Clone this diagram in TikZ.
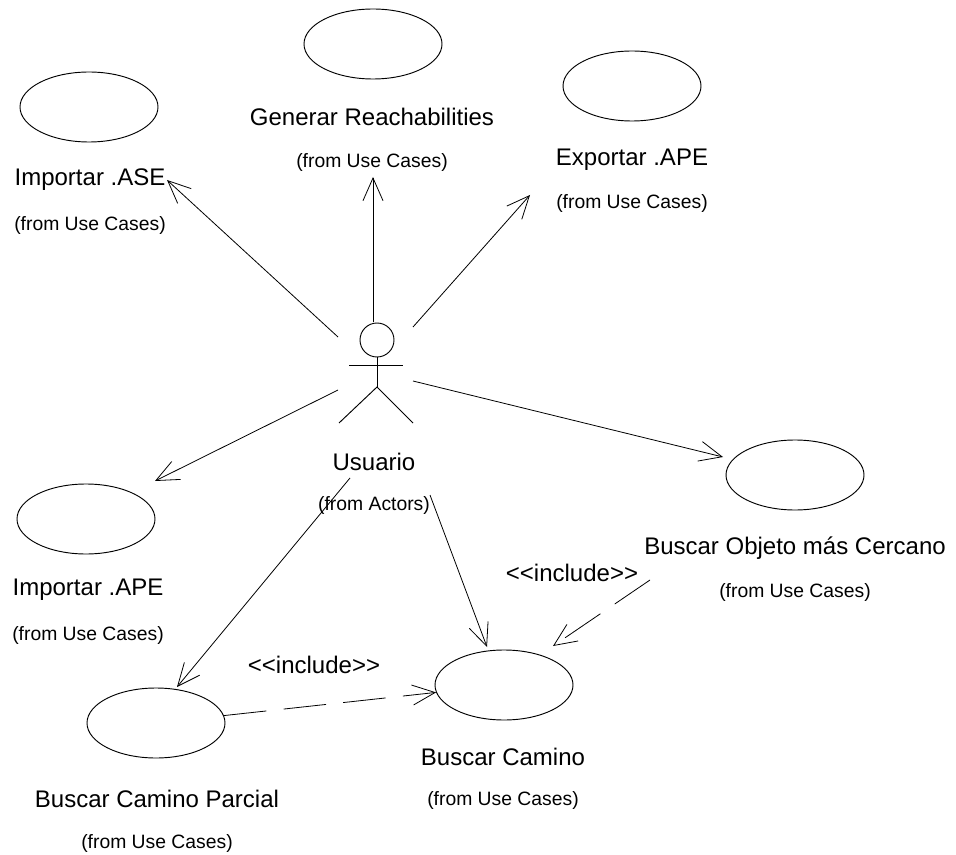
\documentclass[tikz,border=0pt]{standalone}
\usepackage{fontspec}
\setmainfont{Liberation Sans}
\usetikzlibrary{shapes.geometric,arrows.meta}
\begin{document}
\begin{tikzpicture}[x=0.75pt,y=-0.75pt,
  usecase/.style={draw,ellipse,line width=0.7pt,minimum width=103.5pt,minimum height=52.5pt,inner sep=0pt},
  title/.style={font=\fontsize{18}{20}\selectfont,inner sep=0pt},
  origin/.style={font=\fontsize{14.5}{16}\selectfont,inner sep=0pt},
  assoc/.style={line width=0.6pt,-{Straight Barb[length=17pt,width=15pt,line width=0.6pt]}},
  incl/.style={assoc,dash pattern=on 32pt off 13pt},
  stick/.style={line width=0.7pt}]
\useasboundingbox (0,0) rectangle (956,855);

% use cases
\node[usecase] (ase)  at (89,107)  {};
\node[usecase] (gen)  at (373,44)  {};
\node[usecase] (exp)  at (632,86)  {};
\node[usecase] (iape) at (86,519)  {};
\node[usecase] (obj)  at (795,475) {};
\node[usecase] (cam)  at (504,685) {};
\node[usecase] (par)  at (156,723) {};

% use case names and packages
\node[title]  (aseT)  at (90,180)  {Importar .ASE};
\node[origin] (aseF)  at (90,225)  {(from Use Cases)};
\node[title]  (genT)  at (372,117) {Generar Reachabilities};
\node[origin] (genF)  at (372,162) {(from Use Cases)};
\node[title]  (expT)  at (632,160) {Exportar .APE};
\node[origin] (expF)  at (632,203) {(from Use Cases)};
\node[title]  (iapeT) at (88,590)  {Importar .APE};
\node[origin] (iapeF) at (88,635)  {(from Use Cases)};
\node[title]  (objT)  at (795,548) {Buscar Objeto más Cercano};
\node[origin] (objF)  at (795,592) {(from Use Cases)};
\node[title]  (camT)  at (503,757) {Buscar Camino};
\node[origin] (camF)  at (503,800) {(from Use Cases)};
\node[title]  (parT)  at (157,799) {Buscar Camino Parcial};
\node[origin] (parF)  at (157,843) {(from Use Cases)};

% actor
\node[draw,circle,stick,minimum size=25.5pt,inner sep=0pt] (head) at (377,340) {};
\draw[stick] (349,365) -- (403,365);
\draw[stick] (head.south) -- (377,387) coordinate (hip);
\draw[stick] (339,423) -- (hip) -- (413,423);
\node[title]  (actT) at (374,462) {Usuario};
\node[origin] (actF) at (374,505) {(from Actors)};

% connector ends
\coordinate (u1) at (338,337);
\coordinate (u2) at (373,322);
\coordinate (u3) at (413,327);
\coordinate (u4) at (338,390);
\coordinate (u5) at (413,381);
\coordinate (u6) at (350,478);
\coordinate (u7) at (430,495);
\coordinate (t1) at (167,180);
\coordinate (t2) at (373,177);
\coordinate (t3) at (530,195);
\coordinate (t4) at (155,481);
\coordinate (t5) at (723,457);
\coordinate (t6) at (177,687);
\coordinate (t7) at (487,647);
\coordinate (s8) at (650,580);
\coordinate (t8) at (553,646);

% associations
\draw[assoc] (u1) -- (t1);
\draw[assoc] (u2) -- (t2);
\draw[assoc] (u3) -- (t3);
\draw[assoc] (u4) -- (t4);
\draw[assoc] (u5) -- (t5);
\draw[assoc] (u6) -- (t6);
\draw[assoc] (u7) -- (t7);

% include dependencies
\draw[incl] (par) -- (cam);
\draw[incl] (s8) -- (t8);
\node[title] (inc1) at (314,665) {<{}<include>{}>};
\node[title] (inc2) at (572,573) {<{}<include>{}>};
\end{tikzpicture}
\end{document}
